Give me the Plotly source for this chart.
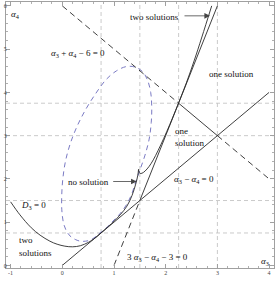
import plotly.graph_objects as go

# ---- data ----
# D3 = 0, main branch (left part up to the cusp)
d3_a3 = [-1.0, -0.82, -0.6, -0.43, -0.24, -0.1, 0.05, 0.2, 0.35, 0.5, 0.62, 0.75, 0.9, 1.0, 1.12, 1.25, 1.35, 1.42, 1.46, 1.475]
d3_a4 = [1.47, 1.17, 0.87, 0.70, 0.56, 0.49, 0.445, 0.43, 0.455, 0.53, 0.62, 0.75, 0.91, 1.02, 1.17, 1.37, 1.62, 1.88, 2.08, 2.22]
# D3 = 0, branch leaving the cusp
d3r_a3 = [1.475, 1.485, 1.5, 1.54, 1.6, 1.68, 1.76, 1.85, 1.96, 2.08, 2.17, 2.25, 2.4, 2.55, 2.7, 2.89]
d3r_a4 = [2.22, 2.16, 2.13, 2.13, 2.18, 2.29, 2.44, 2.65, 2.93, 3.26, 3.52, 3.76, 4.22, 4.73, 5.28, 6.0]
# blue dashed closed curve
ell_a3 = [0.76, 0.65, 0.55, 0.45, 0.35, 0.25, 0.15, 0.07, 0.02, -0.01, -0.01, 0.01, 0.06, 0.15, 0.28, 0.45, 0.65, 0.85, 1.05, 1.25, 1.42, 1.56, 1.65, 1.71, 1.73, 1.72, 1.68, 1.6, 1.5, 1.42, 1.34, 1.24, 1.12, 1.0, 0.88, 0.76]
ell_a4 = [0.78, 0.67, 0.59, 0.56, 0.56, 0.6, 0.68, 0.82, 1.0, 1.3, 1.65, 2.0, 2.4, 2.8, 3.2, 3.6, 3.98, 4.3, 4.5, 4.6, 4.58, 4.47, 4.28, 4.0, 3.65, 3.3, 2.92, 2.55, 2.2, 1.93, 1.64, 1.4, 1.2, 1.05, 0.9, 0.78]
# straight lines (solid / dashed pieces)
eq_a3 = [0.0, 4.0]            # a3 - a4 = 0
eq_a4 = [0.0, 4.0]
l3_dash_a3 = [1.0, 1.5]       # 3 a3 - a4 - 3 = 0
l3_dash_a4 = [0.0, 1.5]
l3_solid_a3 = [1.5, 3.0]
l3_solid_a4 = [1.5, 6.0]
s6_dash1_a3 = [0.0, 2.25]     # a3 + a4 - 6 = 0
s6_dash1_a4 = [6.0, 3.75]
s6_solid_a3 = [2.25, 3.0]
s6_solid_a4 = [3.75, 3.0]
s6_dash2_a3 = [3.0, 4.0]
s6_dash2_a4 = [3.0, 2.0]
grid_x = [0.75, 1.5, 2.25, 3.0]
grid_y = [0.75, 1.5, 3.0, 3.75]
x_ticks = [-1, 0, 1, 2, 3, 4]
y_ticks = [0, 1, 2, 3, 4, 5, 6]

BLK = "#2a2a2a"
SERIF = "Liberation Serif, Times New Roman, serif"

fig = go.Figure()

for gx in grid_x:
    fig.add_vline(x=gx, line=dict(color="#c4c4c4", width=0.9, dash="4px,3px"), layer="below")
for gy in grid_y:
    fig.add_hline(y=gy, line=dict(color="#c4c4c4", width=0.9, dash="4px,3px"), layer="below")

def line(xs, ys, dash=None, color=BLK, width=0.9, shape="linear"):
    fig.add_trace(go.Scatter(x=xs, y=ys, mode="lines", hoverinfo="skip",
                             line=dict(color=color, width=width, dash=dash, shape=shape)))

line(ell_a3, ell_a4, dash="5px,4px", color="#7a7ac4", width=1.0, shape="spline")
line(eq_a3, eq_a4)
line(l3_dash_a3, l3_dash_a4, dash="6px,4px")
line(l3_solid_a3, l3_solid_a4)
line(s6_dash1_a3, s6_dash1_a4, dash="6px,4px")
line(s6_solid_a3, s6_solid_a4)
line(s6_dash2_a3, s6_dash2_a4, dash="6px,4px")
line(d3_a3, d3_a4, shape="spline")
line(d3r_a3, d3r_a4, shape="spline")

def txt(x, y, s, anchor="center"):
    fig.add_annotation(x=x, y=y, text=s, showarrow=False, xanchor=anchor, yanchor="middle",
                       font=dict(family=SERIF, size=9, color="#111"))

txt(-0.915, 5.79, "<i>α</i><sub>4</sub>")
txt(3.92, 0.10, "<i>α</i><sub>3</sub>")
txt(0.294, 4.89, "<i>α</i><sub>3</sub> + <i>α</i><sub>4</sub> − 6 = 0")
txt(1.774, 5.74, "two solutions")
txt(3.27, 4.43, "one solution")
txt(2.14, 3.11, "one", "left")
txt(2.14, 2.83, "solution", "left")
txt(0.516, 1.93, "no solution")
txt(2.547, 1.98, "<i>α</i><sub>3</sub> − <i>α</i><sub>4</sub> = 0")
txt(-0.56, 1.39, "<i>D</i><sub>3</sub> = 0")
txt(-0.88, 0.58, "two", "left")
txt(-0.88, 0.29, "solutions", "left")
txt(1.85, 0.19, "3 <i>α</i><sub>3</sub> − <i>α</i><sub>4</sub> − 3 = 0")

for hx, hy, axp in [(2.857, 5.77, -27), (1.439, 1.94, -25)]:
    fig.add_annotation(x=hx, y=hy, ax=axp, ay=0, text="", showarrow=True,
                       arrowhead=2, arrowsize=1.4, arrowwidth=0.8, arrowcolor="#444")

axis_common = dict(showgrid=False, zeroline=False, showline=True, linecolor="#a0a0a0", linewidth=1,
                   mirror="ticks", ticks="inside", ticklen=4, tickcolor="#a0a0a0", tickwidth=0.8,
                   tickfont=dict(family=SERIF, size=6, color="#444"), automargin=False,
                   minor=dict(ticks="inside", ticklen=2, tickcolor="#b0b0b0", tickwidth=0.6, dtick=0.2, showgrid=False))
fig.update_xaxes(range=[-1.089, 4.095], tickvals=x_ticks, ticktext=[str(v) for v in x_ticks],
                 ticklabelstandoff=-1, **axis_common)
fig.update_yaxes(range=[-0.06, 6.09], tickvals=y_ticks, ticktext=[str(v) for v in y_ticks],
                 ticklabelstandoff=-3, **axis_common)
fig.update_layout(width=277, height=281, margin=dict(l=6, r=3, t=2, b=13),
                  showlegend=False, plot_bgcolor="white", paper_bgcolor="white")
fig.write_html("out.html", config={"displayModeBar": False},
               post_script="document.body.style.margin='0px';")
